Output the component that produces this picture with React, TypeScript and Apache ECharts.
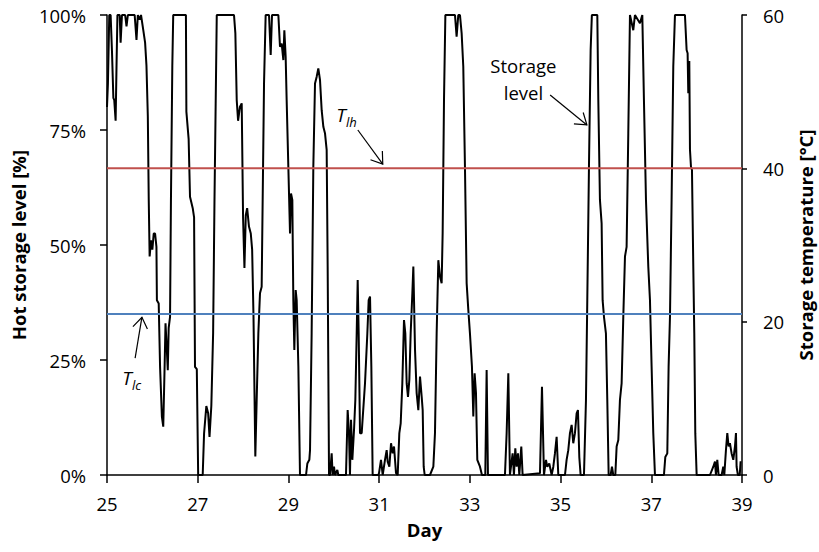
import React, { useEffect, useRef } from 'react';
import * as echarts from 'echarts';

// ---- Data ----
const days = [
  25.0, 25.02, 25.05, 25.08, 25.11, 25.14, 25.16, 25.19, 25.21, 25.23, 25.28, 25.3, 25.33, 25.4, 25.43, 25.46,
  25.61, 25.65, 25.68, 25.72, 25.75, 25.8, 25.84, 25.87, 25.9, 25.92, 25.94, 25.97, 26.0, 26.03, 26.06, 26.09,
  26.1, 26.14, 26.17, 26.21, 26.24, 26.27, 26.29, 26.32, 26.34, 26.36, 26.39, 26.41, 26.44, 26.46, 26.74, 26.75,
  26.8, 26.83, 26.89, 26.92, 26.94, 26.98, 27.01, 27.11, 27.14, 27.19, 27.23, 27.26, 27.3, 27.34, 27.37, 27.42,
  27.8, 27.83, 27.86, 27.89, 27.93, 27.97, 28.0, 28.03, 28.06, 28.09, 28.13, 28.17, 28.2, 28.23, 28.27,
  28.3, 28.337, 28.373, 28.41, 28.432, 28.462, 28.498, 28.572, 28.609, 28.638, 28.778, 28.814, 28.851, 28.888,
  28.91, 28.939, 28.961, 28.998, 29.035, 29.057, 29.086, 29.108, 29.13, 29.16, 29.182, 29.219, 29.255, 29.388,
  29.417, 29.461, 29.476, 29.512, 29.549, 29.586, 29.623, 29.659, 29.696, 29.733, 29.77, 29.806, 29.843, 29.865,
  29.895, 29.917, 29.953, 29.975, 30.005, 30.027, 30.078, 30.1, 30.269, 30.306, 30.335, 30.357, 30.38, 30.409,
  30.446, 30.475, 30.505, 30.527, 30.549, 30.578, 30.615, 30.688, 30.74, 30.769, 30.799, 30.828, 30.857, 30.982,
  30.997, 31.041, 31.078, 31.129, 31.166, 31.188, 31.225, 31.262, 31.298, 31.328, 31.372, 31.409, 31.445, 31.475,
  31.511, 31.548, 31.577, 31.607, 31.636, 31.666, 31.695, 31.732, 31.754, 31.791, 31.827, 31.864, 31.901, 31.938,
  31.96, 31.982, 32.004, 32.121, 32.195, 32.231, 32.268, 32.305, 32.342, 32.378, 32.4, 32.43, 32.46,
  32.672, 32.708, 32.745, 32.782, 32.819, 32.855, 32.892, 32.929, 32.966, 33.002, 33.046, 33.076, 33.105, 33.135,
  33.164, 33.223, 33.267, 33.34, 33.37, 33.399, 33.774, 33.811, 33.848, 33.884, 33.943, 33.972, 34.002, 34.031,
  34.061, 34.09, 34.134, 34.163, 34.546, 34.59, 34.634, 34.678, 34.707, 34.751, 34.803, 34.84, 34.876, 34.913,
  34.95, 35.097, 35.133, 35.17, 35.207, 35.244, 35.28, 35.317, 35.354, 35.383, 35.413, 35.442, 35.516, 35.56,
  35.589, 35.626, 35.663, 35.69,
  35.81, 35.832, 35.868, 35.905, 35.927, 35.957, 36.0, 36.03, 36.06, 36.104, 36.133, 36.162, 36.207, 36.236,
  36.273, 36.309, 36.346, 36.383, 36.42, 36.456, 36.493, 36.53, 36.603, 36.64, 36.75, 36.802, 36.838, 36.883,
  36.934, 36.971, 37.007, 37.044, 37.081, 37.279, 37.309, 37.353, 37.382, 37.412, 37.448, 37.485, 37.522, 37.742,
  37.779, 37.801, 37.816, 37.838, 37.853, 37.875, 37.897, 37.926, 37.948, 37.97, 38.0, 38.294, 38.367, 38.404,
  38.426, 38.455, 38.485, 38.551, 38.587, 38.61, 38.646, 38.676, 38.705, 38.734, 38.771, 38.808, 38.845, 38.867,
  38.881, 38.91, 38.95, 38.97,
];

const storageLevel = [
  80, 85, 100, 100, 92, 82, 81.5, 77, 89, 100, 100, 94, 100, 100, 97.5, 100,
  100, 94.6, 100, 99, 100, 96.7, 94, 89, 78, 60, 47.5, 51, 49, 52.5, 52.5, 49.6,
  38, 37.3, 23.5, 12.7, 10.5, 23.5, 33, 27, 22.8, 32, 34.4, 60, 89, 100, 100, 79,
  73, 60.5, 58, 56, 23.5, 23, 0, 0, 9, 15, 13.4, 8.3, 15, 31, 60, 100,
  100, 96, 81.5, 77, 80, 80.8, 56, 45, 56.5, 58, 54, 52.5, 49, 34.4, 4,
  16.3, 30.8, 39.5, 40.9, 59.8, 85.1, 100, 100, 91.3, 100, 100, 93.1, 93.8, 90.2,
  96.7, 90.9, 81.5, 67, 52.5, 61.2, 59.8, 38, 27.2, 40.2, 38, 23.6, 0, 0,
  2.5, 3.3, 5.4, 30.8, 67, 85.1, 86.6, 88.4, 85.9, 79.3, 75.7, 74.3, 70.7, 45.3,
  0, 0, 4.7, 0, 1.8, 0, 1.1, 0, 0, 14.1, 9.1, 0, 12, 3.3,
  9.8, 16.3, 30.8, 42.4, 30.8, 9.1, 9.1, 19.9, 30.8, 38, 38.8, 23.6, 0, 0,
  0.4, 3.3, 0, 3.3, 5.4, 2.9, 1.8, 6.9, 4.7, 6.2, 0.4, 0, 9.1, 11.2,
  19.9, 33.7, 30.8, 19.9, 17, 20.7, 30.8, 39.5, 45.3, 27.2, 17.8, 14.1, 21.4, 17,
  14.1, 1.8, 0, 0, 1.8, 9.1, 30.8, 46.7, 43.1, 41.7, 52.5, 81.5, 100,
  100, 95.3, 100, 100, 96, 88.8, 67, 41.7, 35.9, 30.8, 23.6, 12.7, 22.1, 17.8,
  3.3, 1.8, 0, 0, 22.8, 0, 0, 9.1, 22.1, 0, 4.7, 0, 5.8, 1.8,
  4.7, 0, 6.2, 0, 0.4, 19.2, 0, 3.3, 1.8, 2.5, 0, 1.8, 4.7, 8.3,
  0, 0, 3.3, 5.4, 9.1, 10.9, 6.9, 9.1, 13.4, 14.1, 3.9, 0, 0, 16.3,
  38, 67, 92.4, 100,
  100, 81.5, 59.8, 54.7, 38, 34.4, 30.8, 16.3, 0, 0, 1.8, 0, 0, 6.2,
  7.6, 16.3, 19.9, 34.4, 47.5, 49.6, 74.3, 100, 96.7, 100, 98.2, 100, 81.5, 59.8,
  45.3, 38, 23.6, 9.1, 0, 0, 3.9, 4.7, 23.6, 34.4, 59.8, 88.8, 100, 100,
  92.4, 91.7, 83, 90, 70.7, 67, 66.3, 45.3, 30.8, 9.1, 0, 0, 1.8, 2.9,
  0, 3.3, 0, 0, 1.8, 0, 5.4, 9.1, 6.2, 6.9, 4.7, 3.3, 6.2, 9.1,
  1.8, 0, 0, 3,
];

const dayMin = 25;
const dayMax = 39;
const dayStep = 2;
const levelTicks = [0, 25, 50, 75, 100];
const tempTicks = [0, 20, 40, 60];
const tLh = 40; // upper threshold temperature [°C]
const tLc = 21; // lower threshold temperature [°C]

// annotation anchors in data coordinates [day, level %]
const tLhNote = { sub: 'lh', at: [30.16, 78.3], tail: [30.53, 75.0], tip: [31.08, 67.6] };
const tLcNote = { sub: 'lc', at: [25.44, 21.1], tail: [25.62, 25.4], tip: [25.77, 34.3] };
const levelNote = { text: 'Storage\nlevel', at: [34.18, 86.1], tail: [34.77, 82.6], tip: [35.58, 76.1] };

const FONT = "'Open Sans', 'Noto Sans', sans-serif";
const FS = 18.5;

export default function App() {
  const ref = useRef<HTMLDivElement>(null);

  useEffect(() => {
    if (!ref.current) return;
    const chart = echarts.init(ref.current, null, { renderer: 'svg' });

    const axisLineStyle = { color: '#000', width: 1.5 };
    const labelStyle = { color: '#000', fontFamily: FONT, fontSize: FS };
    const nameStyle = { color: '#000', fontFamily: FONT, fontSize: FS, fontWeight: 'bold' as const };

    chart.setOption({
      animation: false,
      backgroundColor: '#fff',
      grid: { left: 107, right: 77, top: 15, bottom: 77, containLabel: false, outerBoundsMode: 'none' },
      xAxis: {
        type: 'value',
        min: dayMin,
        max: dayMax,
        interval: dayStep,
        name: 'Day',
        nameLocation: 'middle',
        nameGap: 45,
        nameTextStyle: nameStyle,
        axisLine: { show: true, onZero: false, lineStyle: axisLineStyle },
        axisTick: { show: true, length: 8, lineStyle: axisLineStyle },
        axisLabel: { ...labelStyle, margin: 19 },
        splitLine: { show: false },
      },
      yAxis: [
        {
          type: 'value',
          position: 'left',
          min: levelTicks[0],
          max: levelTicks[levelTicks.length - 1],
          interval: levelTicks[1] - levelTicks[0],
          name: 'Hot storage level [%]',
          nameLocation: 'middle',
          nameRotate: 90,
          nameGap: 75,
          nameTextStyle: nameStyle,
          axisLine: { show: true, lineStyle: axisLineStyle },
          axisTick: { show: true, length: 7, lineStyle: axisLineStyle },
          axisLabel: { ...labelStyle, margin: 21, formatter: '{value}%' },
          splitLine: { show: false },
        },
        {
          type: 'value',
          position: 'right',
          min: tempTicks[0],
          max: tempTicks[tempTicks.length - 1],
          interval: tempTicks[1] - tempTicks[0],
          name: 'Storage temperature [°C]',
          nameLocation: 'middle',
          nameRotate: 90,
          nameGap: 54,
          nameTextStyle: nameStyle,
          axisLine: { show: true, lineStyle: axisLineStyle },
          axisTick: { show: true, length: 5, lineStyle: axisLineStyle },
          axisLabel: { ...labelStyle, margin: 21 },
          splitLine: { show: false },
        },
      ],
      series: [
        {
          name: 'Storage level',
          type: 'line',
          yAxisIndex: 0,
          showSymbol: false,
          symbol: 'none',
          lineStyle: { color: '#000', width: 2 },
          data: days.map((d, i) => [d, storageLevel[i]]),
          z: 2,
        },
        {
          name: 'T_lh',
          type: 'line',
          yAxisIndex: 1,
          showSymbol: false,
          symbol: 'none',
          lineStyle: { color: '#C0504D', width: 2 },
          data: [[dayMin, tLh], [dayMax, tLh]],
          z: 3,
        },
        {
          name: 'T_lc',
          type: 'line',
          yAxisIndex: 1,
          showSymbol: false,
          symbol: 'none',
          lineStyle: { color: '#4F81BD', width: 2 },
          data: [[dayMin, tLc], [dayMax, tLc]],
          z: 3,
        },
      ],
    });

    const px = (p: number[]) => [
      chart.convertToPixel({ xAxisIndex: 0 }, p[0]) as number,
      chart.convertToPixel({ yAxisIndex: 0 }, p[1]) as number,
    ];
    const arrow = (tail: number[], tip: number[]) => {
      const a = px(tail);
      const b = px(tip);
      const ang = Math.atan2(b[1] - a[1], b[0] - a[0]);
      const len = 13;
      const spread = 0.6;
      const h1 = [b[0] - len * Math.cos(ang - spread), b[1] - len * Math.sin(ang - spread)];
      const h2 = [b[0] - len * Math.cos(ang + spread), b[1] - len * Math.sin(ang + spread)];
      return [
        { type: 'line', shape: { x1: a[0], y1: a[1], x2: b[0], y2: b[1] }, style: { stroke: '#000', lineWidth: 1.2 }, z: 10 },
        { type: 'polyline', shape: { points: [h1, b, h2] }, style: { stroke: '#000', lineWidth: 1.2, fill: null }, z: 10 },
      ];
    };
    const tLabel = (note: { sub: string; at: number[] }) => {
      const p = px(note.at);
      return [
        {
          type: 'text',
          x: p[0],
          y: p[1],
          z: 10,
          style: { text: 'T', fontFamily: FONT, fontSize: 19, fontStyle: 'italic', fill: '#000', align: 'center', verticalAlign: 'middle' },
        },
        {
          type: 'text',
          x: p[0] + 5,
          y: p[1] + 7,
          z: 10,
          style: { text: note.sub, fontFamily: FONT, fontSize: 13, fontStyle: 'italic', fill: '#000', align: 'left', verticalAlign: 'middle' },
        },
      ];
    };
    const lp = px(levelNote.at);

    chart.setOption({
      graphic: [
        ...tLabel(tLhNote),
        ...arrow(tLhNote.tail, tLhNote.tip),
        ...tLabel(tLcNote),
        ...arrow(tLcNote.tail, tLcNote.tip),
        {
          type: 'text',
          x: lp[0],
          y: lp[1],
          z: 10,
          style: { text: levelNote.text, fontFamily: FONT, fontSize: FS, lineHeight: 27, fill: '#000', align: 'center', verticalAlign: 'middle' },
        },
        ...arrow(levelNote.tail, levelNote.tip),
      ],
    });

    return () => chart.dispose();
  }, []);

  return <div ref={ref} style={{ position: 'fixed', left: 0, top: 0, width: 819, height: 552 }} />;
}
